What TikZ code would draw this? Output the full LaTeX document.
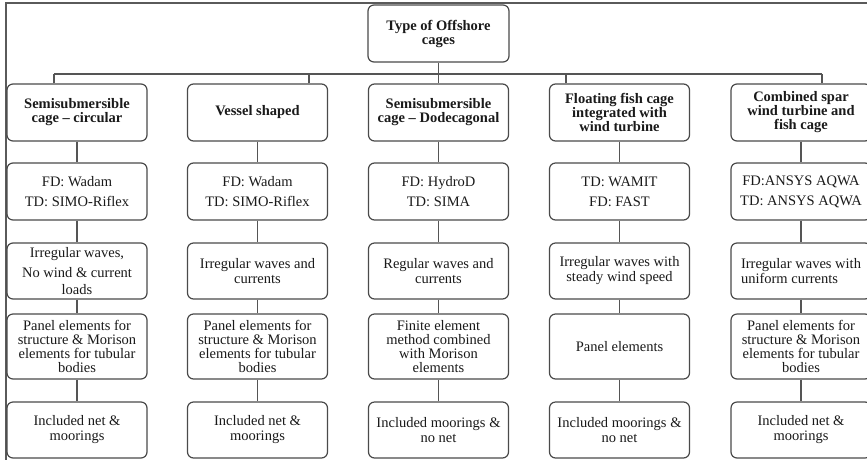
\documentclass[tikz,border=0pt]{standalone}
\usepackage{fontspec}
\setmainfont{Liberation Serif}
\definecolor{boxc}{HTML}{4A4A4A}
\definecolor{linec}{HTML}{555555}
\definecolor{txt}{HTML}{1A1A1A}
\definecolor{framec}{HTML}{5A5A5A}
\begin{document}
\begin{tikzpicture}[x=1pt,y=-1pt,
  box/.style={draw=boxc, line width=1.2pt, rounded corners=6pt, minimum width=140pt,
    align=center, inner sep=2pt, text=txt, font=\fontsize{14.5}{15}\selectfont},
  hbox/.style={box, font=\bfseries\fontsize{14.5}{14}\selectfont},
  conn/.style={draw=linec, line width=1.2pt}]
\clip (0,0) rectangle (867,459);
\fill[white] (0,0) rectangle (867,459);
% frame
\draw[framec, line width=1.8pt] (6,475) -- (6,3) -- (880,3);
% root
\node[hbox, minimum width=141pt, minimum height=57pt] (root) at (438.5,33.5) {Type of Offshore\\cages};
% row 1
\node[hbox, minimum height=57pt] (t1) at (77,112.5) {Semisubmersible\\cage -- circular};
\node[hbox, minimum height=57pt] (t2) at (257.5,112.5) {Vessel shaped};
\node[hbox, minimum height=57pt] (t3) at (438.5,112.5) {Semisubmersible\\cage -- Dodecagonal};
\node[hbox, minimum height=57pt] (t4) at (619.5,112.5) {Floating fish cage\\integrated with\\wind turbine};
\node[hbox, minimum height=57pt] (t5) at (801,112.5) {Combined spar\\wind turbine and\\fish cage};
% row 2
\tikzset{r2/.style={box, minimum height=57pt, font=\fontsize{14.5}{20}\selectfont}}
\node[r2] (s1) at (77,191.5) {FD: Wadam\\TD: SIMO-Riflex};
\node[r2] (s2) at (257.5,191.5) {FD: Wadam\\TD: SIMO-Riflex};
\node[r2] (s3) at (438.5,191.5) {FD: HydroD\\TD: SIMA};
\node[r2] (s4) at (619.5,191.5) {TD: WAMIT\\FD: FAST};
\node[r2] (s5) at (801,191.5) {FD:ANSYS AQWA\\TD: ANSYS AQWA};
% row 3
\tikzset{r3/.style={box, minimum height=56pt}}
\node[r3, font=\fontsize{14.5}{16.5}\selectfont] (w1) at (77,271) {Irregular waves,\\[3.5pt]No wind \& current\\loads};
\node[r3] (w2) at (257.5,271) {Irregular waves and\\currents};
\node[r3] (w3) at (438.5,271) {Regular waves and\\currents};
\node[r3] (w4) at (619.5,271) {Irregular waves with\\steady wind speed};
\node[r3, align=left] (w5) at (801,271) {Irregular waves with\\uniform currents};
% row 4
\tikzset{r4/.style={box, minimum height=65pt, font=\fontsize{14.5}{14.3}\selectfont}}
\node[r4] (p1) at (77,346.5) {Panel elements for\\structure \& Morison\\elements for tubular\\bodies};
\node[r4] (p2) at (257.5,346.5) {Panel elements for\\structure \& Morison\\elements for tubular\\bodies};
\node[r4] (p3) at (438.5,346.5) {Finite element\\method combined\\with Morison\\elements};
\node[r4] (p4) at (619.5,346.5) {Panel elements};
\node[r4] (p5) at (801,346.5) {Panel elements for\\structure \& Morison\\elements for tubular\\bodies};
% row 5
\tikzset{r5/.style={box, minimum height=56pt}}
\node[r5] (m1) at (77,430) {Included net \&\\moorings};
\node[r5] (m2) at (257.5,430) {Included net \&\\moorings};
\node[r5] (m3) at (438.5,430) {Included moorings \&\\no net};
\node[r5] (m4) at (619.5,430) {Included moorings \&\\no net};
\node[r5] (m5) at (801,430) {Included net \&\\moorings};
% bus connectors
\coordinate (busL) at (54,74);
\coordinate (busR) at (822,74);
\coordinate (d1) at ([xshift=-23pt]t1.north);
\coordinate (d2) at ([xshift=51.5pt]t2.north);
\coordinate (d3) at (root.south |- t3.north);
\coordinate (d4) at ([xshift=-53.5pt]t4.north);
\coordinate (d5) at ([xshift=21pt]t5.north);
\draw[conn] (busL) -- (busR);
\draw[conn] (root.south) -- (d3);
\foreach \d in {d1,d2,d4,d5} \draw[conn] (\d) -- (\d |- busL);
% column connectors
\foreach \a/\b/\c/\d/\e in {t1/s1/w1/p1/m1, t2/s2/w2/p2/m2, t3/s3/w3/p3/m3, t4/s4/w4/p4/m4, t5/s5/w5/p5/m5}{
  \draw[conn] (\a) -- (\b);
  \draw[conn] (\b) -- (\c);
  \draw[conn] (\c) -- (\d);
  \draw[conn] (\d) -- (\e);
}
\end{tikzpicture}
\end{document}
